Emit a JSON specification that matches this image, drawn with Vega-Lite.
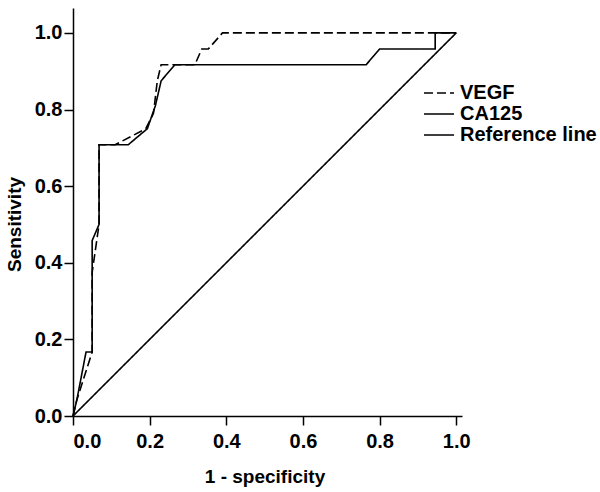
{
  "$schema": "https://vega.github.io/schema/vega-lite/v6.json",
  "autosize": "none",
  "width": 389,
  "height": 408,
  "padding": {"left": 73, "top": 8, "right": 138, "bottom": 76},
  "background": "white",
  "config": {
    "view": {"stroke": null},
    "font": "Liberation Sans",
    "axis": {
      "grid": false,
      "domainColor": "black",
      "domainWidth": 1.5,
      "tickColor": "black",
      "tickWidth": 1.5,
      "tickSize": 9,
      "labelFont": "Liberation Sans",
      "labelFontSize": 20,
      "labelFontWeight": "bold",
      "labelColor": "black",
      "titleFont": "Liberation Sans",
      "titleFontSize": 19,
      "titleFontWeight": "bold",
      "titleColor": "black"
    }
  },
  "data": {
    "values": [
      {"series": "VEGF", "i": 0, "x": 0.0, "y": 0.0},
      {"series": "VEGF", "i": 1, "x": 0.01, "y": 0.042},
      {"series": "VEGF", "i": 2, "x": 0.05, "y": 0.167},
      {"series": "VEGF", "i": 3, "x": 0.05, "y": 0.375},
      {"series": "VEGF", "i": 4, "x": 0.068, "y": 0.5},
      {"series": "VEGF", "i": 5, "x": 0.068, "y": 0.708},
      {"series": "VEGF", "i": 6, "x": 0.11, "y": 0.708},
      {"series": "VEGF", "i": 7, "x": 0.19, "y": 0.75},
      {"series": "VEGF", "i": 8, "x": 0.21, "y": 0.79},
      {"series": "VEGF", "i": 9, "x": 0.22, "y": 0.875},
      {"series": "VEGF", "i": 10, "x": 0.23, "y": 0.917},
      {"series": "VEGF", "i": 11, "x": 0.318, "y": 0.917},
      {"series": "VEGF", "i": 12, "x": 0.336, "y": 0.958},
      {"series": "VEGF", "i": 13, "x": 0.353, "y": 0.958},
      {"series": "VEGF", "i": 14, "x": 0.39, "y": 1.0},
      {"series": "VEGF", "i": 15, "x": 1.0, "y": 1.0},
      {"series": "CA125", "i": 0, "x": 0.0, "y": 0.0},
      {"series": "CA125", "i": 1, "x": 0.01, "y": 0.042},
      {"series": "CA125", "i": 2, "x": 0.034, "y": 0.167},
      {"series": "CA125", "i": 3, "x": 0.05, "y": 0.167},
      {"series": "CA125", "i": 4, "x": 0.05, "y": 0.458},
      {"series": "CA125", "i": 5, "x": 0.068, "y": 0.5},
      {"series": "CA125", "i": 6, "x": 0.068, "y": 0.708},
      {"series": "CA125", "i": 7, "x": 0.144, "y": 0.708},
      {"series": "CA125", "i": 8, "x": 0.194, "y": 0.75},
      {"series": "CA125", "i": 9, "x": 0.215, "y": 0.81},
      {"series": "CA125", "i": 10, "x": 0.23, "y": 0.875},
      {"series": "CA125", "i": 11, "x": 0.266, "y": 0.917},
      {"series": "CA125", "i": 12, "x": 0.765, "y": 0.917},
      {"series": "CA125", "i": 13, "x": 0.8, "y": 0.958},
      {"series": "CA125", "i": 14, "x": 0.945, "y": 0.958},
      {"series": "CA125", "i": 15, "x": 0.945, "y": 1.0},
      {"series": "CA125", "i": 16, "x": 1.0, "y": 1.0},
      {"series": "Reference line", "i": 0, "x": 0.0, "y": 0.0},
      {"series": "Reference line", "i": 1, "x": 1.0, "y": 1.0}
    ]
  },
  "mark": {"type": "line", "strokeWidth": 1.6},
  "encoding": {
    "x": {
      "field": "x",
      "type": "quantitative",
      "scale": {"domain": [0, 1.015], "nice": false, "zero": false},
      "axis": {
        "values": [0, 0.2, 0.4, 0.6, 0.8, 1.0],
        "format": ".1f",
        "labelPadding": 6,
        "title": "1 - specificity",
        "titleBaseline": "alphabetic",
        "titleY": 66,
        "titleAnchor": "middle",
        "titleX": 191.5
      }
    },
    "y": {
      "field": "y",
      "type": "quantitative",
      "scale": {"domain": [0, 1.065], "nice": false, "zero": false},
      "axis": {
        "values": [0, 0.2, 0.4, 0.6, 0.8, 1.0],
        "format": ".1f",
        "labelPadding": 2,
        "title": "Sensitivity",
        "titleAngle": -90,
        "titleBaseline": "alphabetic",
        "titleAlign": "center",
        "titleX": -53,
        "titleY": 216
      }
    },
    "order": {"field": "i", "type": "quantitative"},
    "color": {
      "field": "series",
      "type": "nominal",
      "scale": {"domain": ["VEGF", "CA125", "Reference line"], "range": ["black", "black", "black"]},
      "legend": {
        "title": null,
        "orient": "none",
        "legendX": 355,
        "legendY": 74,
        "padding": 0,
        "symbolType": "M-1.5,0H1.5",
        "symbolSize": 400,
        "symbolStrokeWidth": 1.6,
        "symbolStrokeColor": "black",
        "symbolFillColor": "transparent",
        "labelFont": "Liberation Sans",
        "labelFontSize": 20,
        "labelFontWeight": "bold",
        "labelColor": "black",
        "labelOffset": 10,
        "rowPadding": 0,
        "labelLimit": 300
      }
    },
    "strokeDash": {
      "field": "series",
      "type": "nominal",
      "scale": {"domain": ["VEGF", "CA125", "Reference line"], "range": [[9, 4], [1, 0], [1, 0]]},
      "legend": {
        "title": null,
        "orient": "none",
        "legendX": 355,
        "legendY": 74,
        "padding": 0,
        "symbolType": "M-1.5,0H1.5",
        "symbolSize": 400,
        "symbolStrokeWidth": 1.6,
        "symbolStrokeColor": "black",
        "symbolFillColor": "transparent",
        "labelFont": "Liberation Sans",
        "labelFontSize": 20,
        "labelFontWeight": "bold",
        "labelColor": "black",
        "labelOffset": 10,
        "rowPadding": 0,
        "labelLimit": 300
      }
    }
  }
}
